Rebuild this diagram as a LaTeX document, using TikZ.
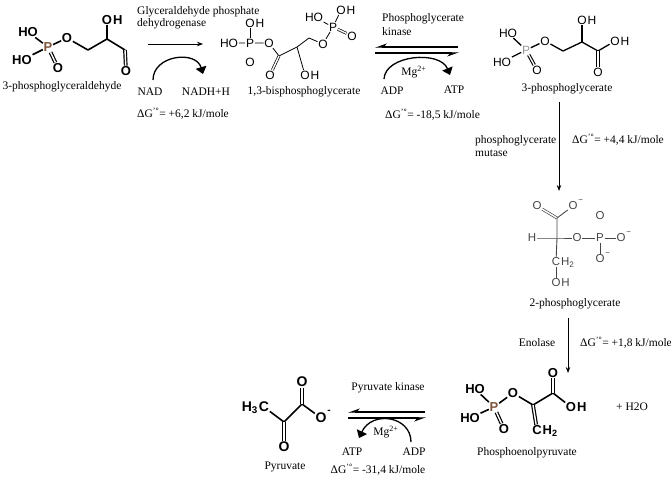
\documentclass[tikz,border=0pt]{standalone}
\usepackage{fontspec}
\setmainfont{Liberation Serif}
\setsansfont{Liberation Sans}
\usetikzlibrary{arrows.meta}
\definecolor{pbrown}{RGB}{125,85,60}
\definecolor{pgray}{RGB}{150,150,150}
\definecolor{bgray}{RGB}{70,70,70}
\begin{document}
\begin{tikzpicture}[x=1pt,y=-1pt,
  lbl/.style={font=\fontsize{11.5}{13}\selectfont, inner sep=0pt},
  atB/.style={font=\sffamily\bfseries\fontsize{13}{14}\selectfont, inner sep=0.6pt},
  atR/.style={font=\sffamily\fontsize{12}{13}\selectfont, inner sep=0.6pt},
  atS/.style={font=\sffamily\fontsize{11.5}{13}\selectfont, inner sep=0.6pt, text=bgray},
  hB/.style={atB, anchor=base west, inner xsep=0pt},
  hR/.style={atR, anchor=base west, inner xsep=0pt},
  hS/.style={atS, anchor=base west, inner xsep=0pt},
  mnS/.style={font=\sffamily\fontsize{8}{8}\selectfont, inner sep=0pt, anchor=west, text=bgray},
  mnB/.style={font=\sffamily\bfseries\fontsize{10}{10}\selectfont, inner sep=0pt, anchor=west},
  bB/.style={line width=1.6pt, line join=round},
  bM/.style={line width=1.3pt, line join=round},
  bT/.style={line width=0.8pt, line join=round},
  bG/.style={line width=0.9pt, line join=round, draw=bgray},
  dbl/.style={double, double distance=1.4pt, line width=1.2pt},
  dblM/.style={double, double distance=1.3pt, line width=1.1pt},
  dblT/.style={double, double distance=1.4pt, line width=0.7pt},
  rxn/.style={-{Stealth[length=6pt,width=4.5pt]}, line width=0.8pt},
  curv/.style={line width=1.3pt, -{Triangle[length=7pt,width=11pt]}},
  harp/.style={line width=1.3pt, -{Stealth[harpoon,swap,length=10pt,width=7pt]}}
]
\useasboundingbox (0,0) rectangle (671,482);

% ---------- 3-phosphoglyceraldehyde ----------
\node[atB] (aHO1) at (28,32) {HO};
\node[atB] (aHO2) at (22,60) {HO};
\node[atB,text=pbrown] (aP) at (48,47) {P};
\node[atB] (aO) at (67,38) {O};
\node[atB] (aOd) at (58,68) {O};
\coordinate (aC1) at (88,50);
\coordinate (aC2) at (107,39);
\node[atB] (aOH) at (107,20) {O};
\node[hB] (aOHh) at (aOH.base east) {H};
\coordinate (aC3) at (125,50);
\node[atB] (aOa) at (126,71) {O};
\draw[bB] (aHO1) -- (aP) -- (aHO2);
\draw[bB] (aP) -- (aO) -- (aC1) -- (aC2) -- (aC3);
\draw[bB] (aC2) -- (aOH);
\draw[bB,dbl] (aP) -- (aOd);
\draw[bB,dbl] (aC3) -- (aOa);
\node[lbl] (aName) at (62,87) {3-phosphoglyceraldehyde};

% ---------- reaction 1 ----------
\node[lbl, anchor=west, align=left, font=\fontsize{11.5}{12.5}\selectfont] (r1E) at (137,18) {Glyceraldehyde phosphate\\dehydrogenase};
\coordinate (r1s) at (148,44);
\coordinate (r1e) at (203,44);
\draw[rxn] (r1s) -- (r1e);
\node[lbl] (nad) at (150,92) {NAD};
\node[lbl] (nadh) at (206,92) {NADH+H};
\coordinate (c1s) at (153,80);
\coordinate (c1e) at (203,74);
\draw[curv] (c1s) .. controls (153,55) and (196,50) .. (c1e);
\node[lbl, anchor=west] (dg1) at (137,114) {ΔG\textsuperscript{'°}= +6,2 kJ/mole};

% ---------- 1,3-bisphosphoglycerate ----------
\node[atR] (bHO) at (229,43) {HO};
\node[atR] (bP) at (250,43) {P};
\node[atR] (bPO) at (250,23) {O};
\node[hR] (bPOh) at (bPO.base east) {H};
\node[atR] (bPOd) at (250,62) {O};
\node[atR] (bO) at (269,43) {O};
\coordinate (bC1) at (279,56);
\node[atR] (bC1O) at (270,75) {O};
\coordinate (bC2) at (297,47);
\node[atR] (bC2O) at (305,75) {O};
\node[hR] (bC2Oh) at (bC2O.base east) {H};
\coordinate (bC3) at (309,38);
\node[atR] (bO2) at (323,44) {O};
\node[atR] (bP2) at (333,27) {P};
\node[atR] (bHO2) at (314,17) {HO};
\node[atR] (bOH2) at (341,10) {O};
\node[hR] (bOH2h) at (bOH2.base east) {H};
\node[atR] (bPO2) at (352,36) {O};
\draw[bT] (bHO) -- (bP) -- (bO) -- (bC1) -- (bC2) -- (bC3) -- (bO2) -- (bP2);
\draw[bT] (bP) -- (bPO);
\draw[bT,dblT] (bP) -- (bPOd);
\draw[bT,dblT] (bC1) -- (bC1O);
\draw[bT] (bC2) -- (bC2O);
\draw[bT] (bP2) -- (bHO2);
\draw[bT] (bP2) -- (bOH2);
\draw[bT,dblT] (bP2) -- (bPO2);
\node[lbl] (bName) at (304,92) {1,3-bisphosphoglycerate};

% ---------- reaction 2 ----------
\node[lbl, anchor=west, align=left, font=\fontsize{11.5}{14}\selectfont] (r2E) at (382,25) {Phosphoglycerate\\kinase};
\coordinate (h2a) at (458,47);
\coordinate (h2b) at (375,47);
\coordinate (h2c) at (375,53);
\coordinate (h2d) at (459,53);
\draw[harp] (h2a) -- (h2b);
\draw[harp] (h2c) -- (h2d);
\node[lbl] (adp1) at (392,91) {ADP};
\node[lbl] (atp1) at (454,90) {ATP};
\node[lbl] (mg1) at (414,72) {Mg\textsuperscript{2+}};
\coordinate (c2s) at (384,79);
\coordinate (c2e) at (450,75);
\draw[curv] (c2s) .. controls (385,55) and (440,50) .. (c2e);
\node[lbl, anchor=west] (dg2) at (385,115) {ΔG\textsuperscript{'°}= -18,5 kJ/mole};

% ---------- 3-phosphoglycerate ----------
\node[atR] (cHO1) at (508,33) {HO};
\node[atR] (cHO2) at (502,62) {HO};
\node[atR,text=pgray] (cP) at (526,50) {P};
\node[atR] (cO) at (545,41) {O};
\node[atR] (cOd) at (537,70) {O};
\coordinate (cC1) at (563,51);
\coordinate (cC2) at (582,42);
\node[atR] (cOH) at (582,20) {O};
\node[hR] (cOHh) at (cOH.base east) {H};
\coordinate (cC3) at (598,51);
\node[atR] (cOH2) at (615,41) {O};
\node[hR] (cOH2h) at (cOH2.base east) {H};
\node[atR] (cOc) at (598,72) {O};
\draw[bM] (cHO1) -- (cP) -- (cHO2);
\draw[bM] (cP) -- (cO) -- (cC1) -- (cC2) -- (cC3) -- (cOH2);
\draw[bM] (cC2) -- (cOH);
\draw[bM,dblM] (cP) -- (cOd);
\draw[bM,dblM] (cC3) -- (cOc);
\node[lbl] (cName) at (567,89) {3-phosphoglycerate};

% ---------- reaction 3 ----------
\coordinate (v1s) at (559,102);
\coordinate (v1e) at (559,191);
\draw[rxn] (v1s) -- (v1e);
\node[lbl, anchor=west, align=left, font=\fontsize{11.5}{13}\selectfont] (r3E) at (475,146) {phosphoglycerate\\mutase};
\node[lbl, anchor=west] (dg3) at (572,140) {ΔG\textsuperscript{'°}= +4,4 kJ/mole};

% ---------- 2-phosphoglycerate ----------
\node[atS] (dO1) at (537,206) {O};
\node[atS] (dO2) at (573,206) {O};
\node[mnS] (dO2m) at (dO2.north east) {−};
\coordinate (dC1) at (557,218);
\coordinate (dC2) at (557,238);
\node[atS] (dH) at (532,238) {H};
\node[atS] (dO3) at (577,238) {O};
\node[atS] (dP) at (600,238) {P};
\node[atS] (dO4) at (621,238) {O};
\node[mnS] (dO4m) at (dO4.north east) {−};
\node[atS] (dO5) at (600,216) {O};
\node[atS] (dO6) at (600,259) {O};
\node[mnS] (dO6m) at (dO6.north east) {−};
\node[atS] (dCH) at (556,262) {C};
\node[hS] (dCHh) at (dCH.base east) {H\textsubscript{2}};
\node[atS] (dOH) at (556,283) {O};
\node[hS] (dOHh) at (dOH.base east) {H};
\draw[bG,dblT,draw=bgray] (dC1) -- (dO1);
\draw[bG] (dC1) -- (dO2);
\draw[bG] (dC1) -- (dC2) -- (dCH);
\draw[bG] (dH) -- (dC2) -- (dO3) -- (dP) -- (dO4);
\draw[bG,dblT,draw=bgray] (dP) -- (dO5);
\draw[bG] (dP) -- (dO6);
\draw[bG] (dCH) -- (dOH);
\node[lbl] (dName) at (575,304) {2-phosphoglycerate};

% ---------- reaction 4 ----------
\coordinate (v2s) at (568,318);
\coordinate (v2e) at (568,373);
\draw[rxn] (v2s) -- (v2e);
\node[lbl] (r4E) at (537,343) {Enolase};
\node[lbl, anchor=west] (dg4) at (580,343) {ΔG\textsuperscript{'°}= +1,8 kJ/mole};

% ---------- phosphoenolpyruvate ----------
\node[atB] (eHO1) at (475,389) {HO};
\node[atB] (eHO2) at (470,418) {HO};
\node[atB,text=pbrown] (eP) at (494,407) {P};
\node[atB] (eOd) at (504,429) {O};
\node[atB] (eO) at (513,393) {O};
\coordinate (eC1) at (533,405);
\node[atB] (eCH) at (537,430) {C};
\node[hB] (eCHh) at (eCH.base east) {H\textsubscript{2}};
\coordinate (eC2) at (553,393);
\node[atB] (eOt) at (553,373) {O};
\node[atB] (eOH) at (571,407) {O};
\node[hB] (eOHh) at (eOH.base east) {H};
\draw[bB] (eHO1) -- (eP) -- (eHO2);
\draw[bB,dbl] (eP) -- (eOd);
\draw[bB] (eP) -- (eO) -- (eC1) -- (eC2) -- (eOH);
\draw[bB,dbl] (eC1) -- (eCH);
\draw[bB,dbl] (eC2) -- (eOt);
\node[lbl] (eName) at (527,453) {Phosphoenolpyruvate};
\node[lbl] (h2o) at (632,407) {+ H2O};

% ---------- reaction 5 ----------
\node[lbl] (r5E) at (388,388) {Pyruvate kinase};
\coordinate (h5a) at (425,412);
\coordinate (h5b) at (348,412);
\coordinate (h5c) at (348,418);
\coordinate (h5d) at (426,418);
\draw[harp] (h5a) -- (h5b);
\draw[harp] (h5c) -- (h5d);
\node[lbl] (mg5) at (386,432) {Mg\textsuperscript{2+}};
\coordinate (c5s) at (411,442);
\coordinate (c5e) at (359,438);
\draw[curv] (c5s) .. controls (411,416) and (372,410) .. (c5e);
\node[lbl] (atp5) at (352,452) {ATP};
\node[lbl] (adp5) at (414,452) {ADP};
\node[lbl] (dg5) at (378,470) {ΔG\textsuperscript{'°}= -31,4 kJ/mole};

% ---------- pyruvate ----------
\node[atB, font=\sffamily\bfseries\fontsize{14}{15}\selectfont] (fC) at (264,407) {C};
\node[atB, font=\sffamily\bfseries\fontsize{14}{15}\selectfont, anchor=base east, inner xsep=0pt] (fH) at (fC.base west) {H\textsubscript{3}};
\coordinate (fC1) at (284,422);
\node[atB, font=\sffamily\bfseries\fontsize{14}{15}\selectfont] (fO1) at (284,447) {O};
\coordinate (fC2) at (302,404);
\node[atB, font=\sffamily\bfseries\fontsize{14}{15}\selectfont] (fO2) at (302,382) {O};
\node[atB, font=\sffamily\bfseries\fontsize{14}{15}\selectfont] (fO3) at (321,418) {O};
\node[mnB] (fO3m) at (fO3.north east) {-};
\draw[bB] (fC) -- (fC1) -- (fC2) -- (fO3);
\draw[bB,dbl] (fC1) -- (fO1);
\draw[bB,dbl] (fC2) -- (fO2);
\node[lbl] (fName) at (285,467) {Pyruvate};
\end{tikzpicture}
\end{document}
